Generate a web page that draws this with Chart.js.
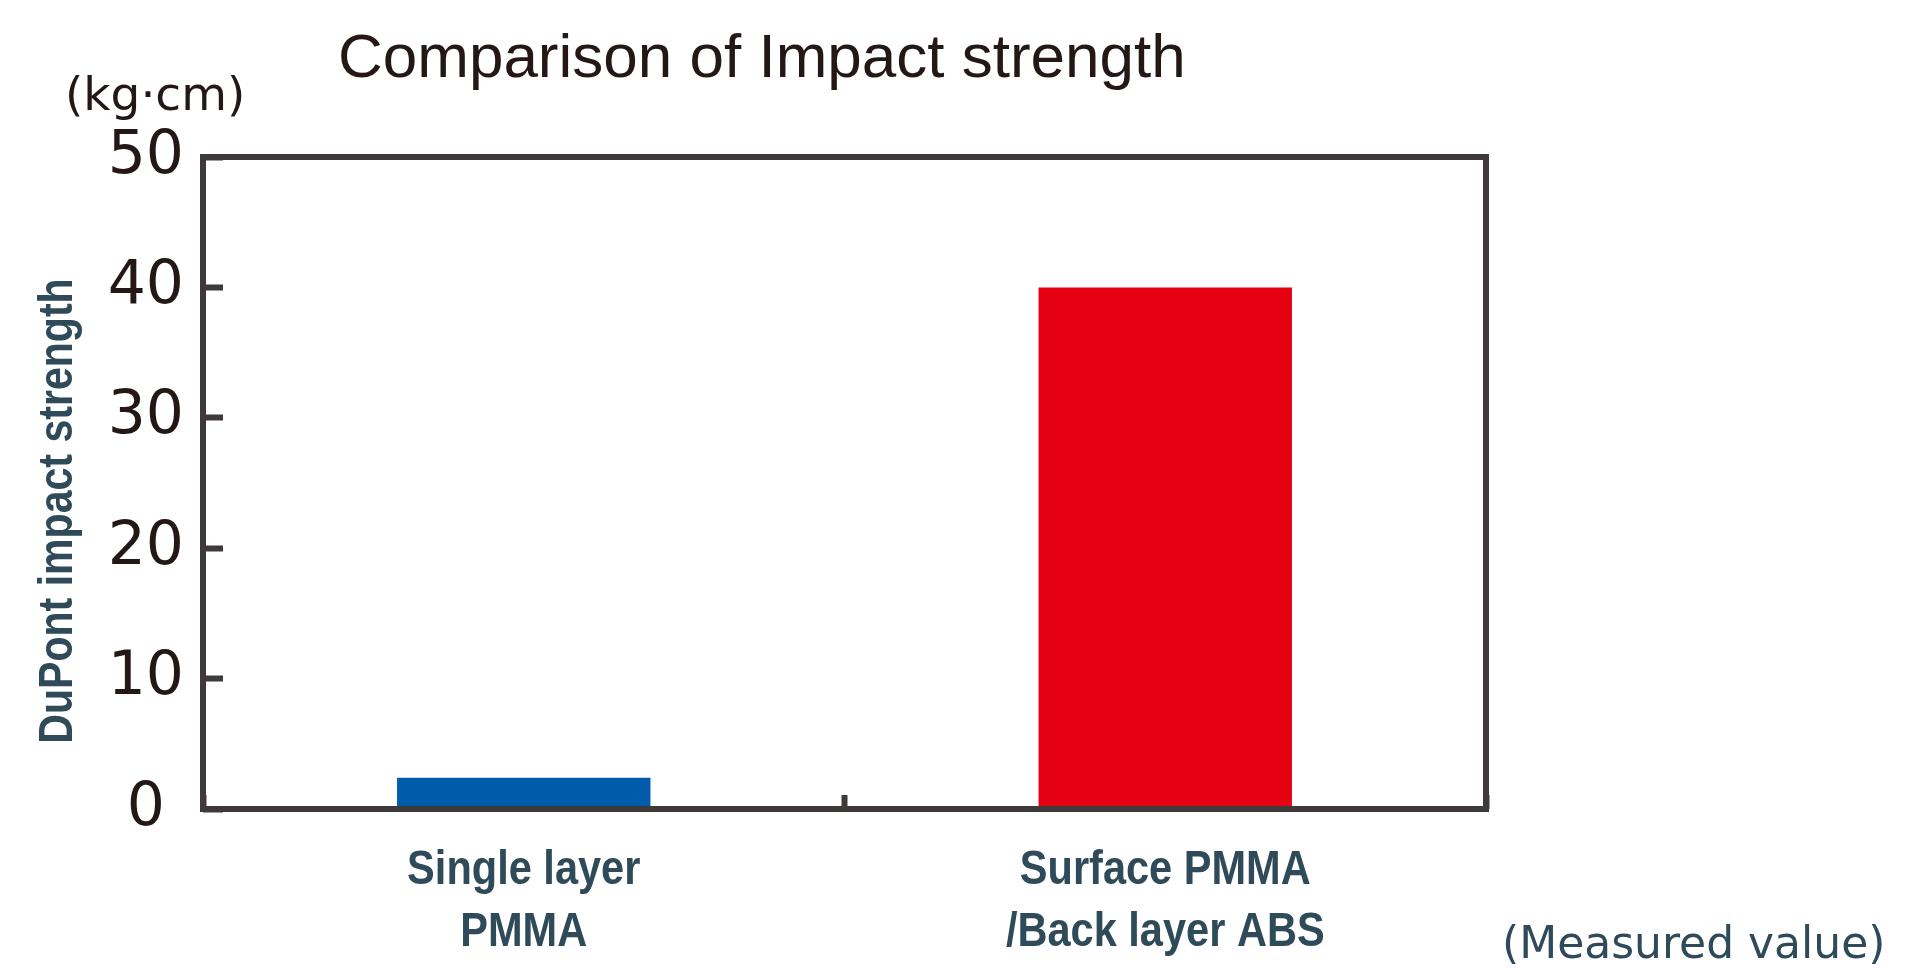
<!DOCTYPE html>
<html>
<head>
<meta charset="utf-8">
<script src="https://cdn.jsdelivr.net/npm/chart.js@4.4.1/dist/chart.umd.min.js"></script>
<style>
  html, body { margin: 0; padding: 0; background: #ffffff; overflow: hidden; }
  #wrap { width: 1924px; height: 968px; position: relative; }
</style>
</head>
<body>
<div id="wrap"><canvas id="c" width="1924" height="968"></canvas></div>
<script>
// ---- data ----
const categories = [['Single layer', 'PMMA'], ['Surface PMMA', '/Back layer ABS']];
const impactValues = [2.4, 40];
const barColors = ['#005bab', '#e50012'];
const yTicks = [0, 10, 20, 30, 40, 50];
const titleText = 'Comparison of Impact strength';
const unitText = '(kg\u00b7cm)';
const yTitleText = 'DuPont impact strength';
const noteText = '(Measured value)';

// ---- styles ----
const FRAME = '#3e3a39';
const DARK = '#231815';
const SLATE = '#2f4a59';
const SANS = '"Liberation Sans", Arial, sans-serif';
const LABEL_BASELINES = [884, 946];
const LABEL_SQUEEZE = 0.848;

const framePlugin = {
  id: 'frame',
  afterDatasetsDraw(chart) {
    const a = chart.chartArea, c = chart.ctx;
    c.save();
    c.strokeStyle = FRAME;
    c.lineWidth = 6;
    c.strokeRect(a.left, a.top, a.right - a.left, a.bottom - a.top);
    c.restore();
  }
};

const textPlugin = {
  id: 'texts',
  afterDraw(chart) {
    const c = chart.ctx;
    c.save();
    c.textBaseline = 'alphabetic';
    c.textAlign = 'left';
    // title
    c.fillStyle = DARK;
    c.font = '62px ' + SANS;
    c.fillText(titleText, 338, 77);
    // unit
    c.font = '47px "DejaVu Sans", sans-serif';
    c.fillText(unitText, 65, 110);
    // note
    c.fillStyle = SLATE;
    c.font = '44px "DejaVu Sans", sans-serif';
    c.fillText(noteText, 1502, 958);

    // category labels, placed at the x scale's category centres
    const xs = chart.scales.x;
    c.font = 'bold 49px ' + SANS;
    c.textAlign = 'center';
    categories.forEach((lines, i) => {
      const x = xs.getPixelForValue(i);
      lines.forEach((ln, j) => {
        c.save();
        c.translate(x, LABEL_BASELINES[j]);
        c.scale(LABEL_SQUEEZE, 1);
        c.fillText(ln, 0, 0);
        c.restore();
      });
    });

    // y title
    c.font = 'bold 49px ' + SANS;
    c.translate(72, 511);
    c.rotate(-Math.PI / 2);
    c.scale(0.838, 1);
    c.textAlign = 'center';
    c.fillText(yTitleText, 0, 0);
    c.restore();
  }
};

new Chart(document.getElementById('c'), {
  type: 'bar',
  data: {
    labels: categories,
    datasets: [{
      data: impactValues,
      backgroundColor: barColors,
      borderWidth: 0,
      barPercentage: 0.395,
      categoryPercentage: 1
    }]
  },
  options: {
    responsive: false,
    animation: false,
    devicePixelRatio: 1,
    layout: { padding: { top: 157, right: 438, bottom: 0, left: 0 } },
    plugins: { legend: { display: false }, tooltip: { enabled: false }, title: { display: false } },
    scales: {
      x: {
        offset: true,
        grid: { display: true, offset: true, drawOnChartArea: false, tickLength: -14, tickWidth: 6, tickColor: FRAME },
        border: { display: false },
        ticks: { display: false },
        afterFit: s => { s.height = 159; }
      },
      y: {
        min: 0,
        max: 50,
        afterBuildTicks: s => { s.ticks = yTicks.map(v => ({ value: v })); },
        grid: { display: true, drawOnChartArea: false, tickLength: -20, tickWidth: 6, tickColor: FRAME },
        border: { display: false },
        ticks: {
          color: DARK,
          font: { family: '"DejaVu Sans", sans-serif', size: 60 },
          padding: 39,
          crossAlign: 'center'
        },
        afterFit: s => { s.width = 203; }
      }
    }
  },
  plugins: [framePlugin, textPlugin]
});
</script>
</body>
</html>
